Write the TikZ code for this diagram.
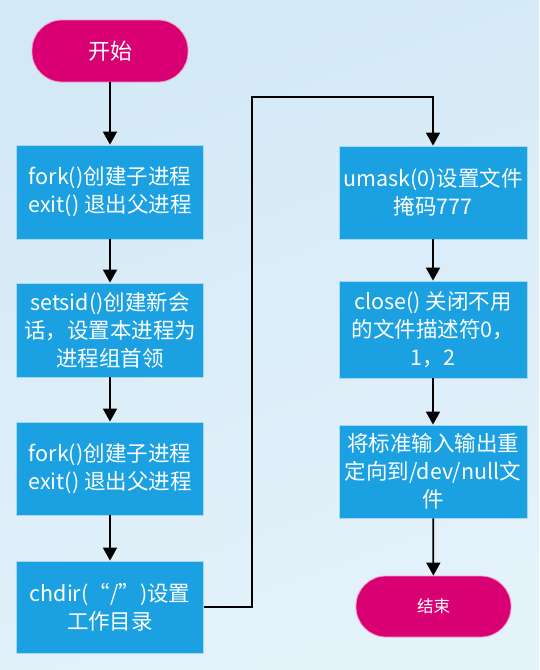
\documentclass[tikz,border=0pt]{standalone}
\usepackage{fontspec}
\setmainfont{Noto Sans CJK SC}
\usetikzlibrary{arrows.meta}
\definecolor{boxblue}{HTML}{1BA1E2}
\definecolor{termred}{HTML}{D80073}
\definecolor{bgtop}{HTML}{D3E9F6}
\definecolor{bgbot}{HTML}{E4F2FA}
\tikzset{
  procbox/.style={rectangle, fill=boxblue, draw=white!60!boxblue, line width=0.8pt,
    minimum width=187pt, text=white, align=center, inner sep=0pt,
    font=\fontsize{21.5}{28}\selectfont},
  termbox/.style={rectangle, rounded corners=30pt, fill=termred, draw=white!60!termred, line width=0.8pt,
    minimum width=156pt, minimum height=62pt, text=white, align=center, inner sep=0pt},
  flow/.style={draw=black, line width=1.8pt, -{Triangle[width=14pt,length=13pt]}},
}
\begin{document}
\begin{tikzpicture}[x=1pt,y=-1pt]
\shade[shading=axis, top color=bgtop, bottom color=bgbot, shading angle=20] (0,0) rectangle (539,670);
\useasboundingbox (0,0) rectangle (539,670);

\node[termbox, font=\fontsize{22}{26}\selectfont] (start) at (110,51) {开始};
\node[procbox, minimum height=94pt] (b1) at (110,192) {fork()创建子进程\\exit() 退出父进程};
\node[procbox, minimum height=94pt] (b2) at (110,330) {setsid()创建新会\\话，设置本进程为\\进程组首领};
\node[procbox, minimum height=93pt] (b3) at (110,468.5) {fork()创建子进程\\exit() 退出父进程};
\node[procbox, minimum height=92pt] (b4) at (110,607) {chdir(“/”)设置\\工作目录};

\node[procbox, minimum width=188pt, minimum height=93pt] (b5) at (433,192.5) {umask(0)设置文件\\掩码777};
\node[procbox, minimum width=188pt, minimum height=97pt] (b6) at (433,329.5) {close() 关闭不用\\的文件描述符0，\\1，2};
\node[procbox, minimum width=188pt, minimum height=93pt] (b7) at (433,471.5) {将标准输入输出重\\定向到/dev/null文\\件};
\node[termbox, minimum width=155pt, minimum height=61pt, font=\fontsize{16.5}{20}\selectfont] (end) at (433.5,606.5) {结束};

\coordinate (turn) at (252,97);

\draw[flow] (start) -- (b1);
\draw[flow] (b1) -- (b2);
\draw[flow] (b2) -- (b3);
\draw[flow] (b3) -- (b4);
\draw[flow] (b4.east) -| (turn) -| (b5.north);
\draw[flow] (b5) -- (b6);
\draw[flow] (b6) -- (b7);
\draw[flow] (b7) -- (end);
\end{tikzpicture}
\end{document}
